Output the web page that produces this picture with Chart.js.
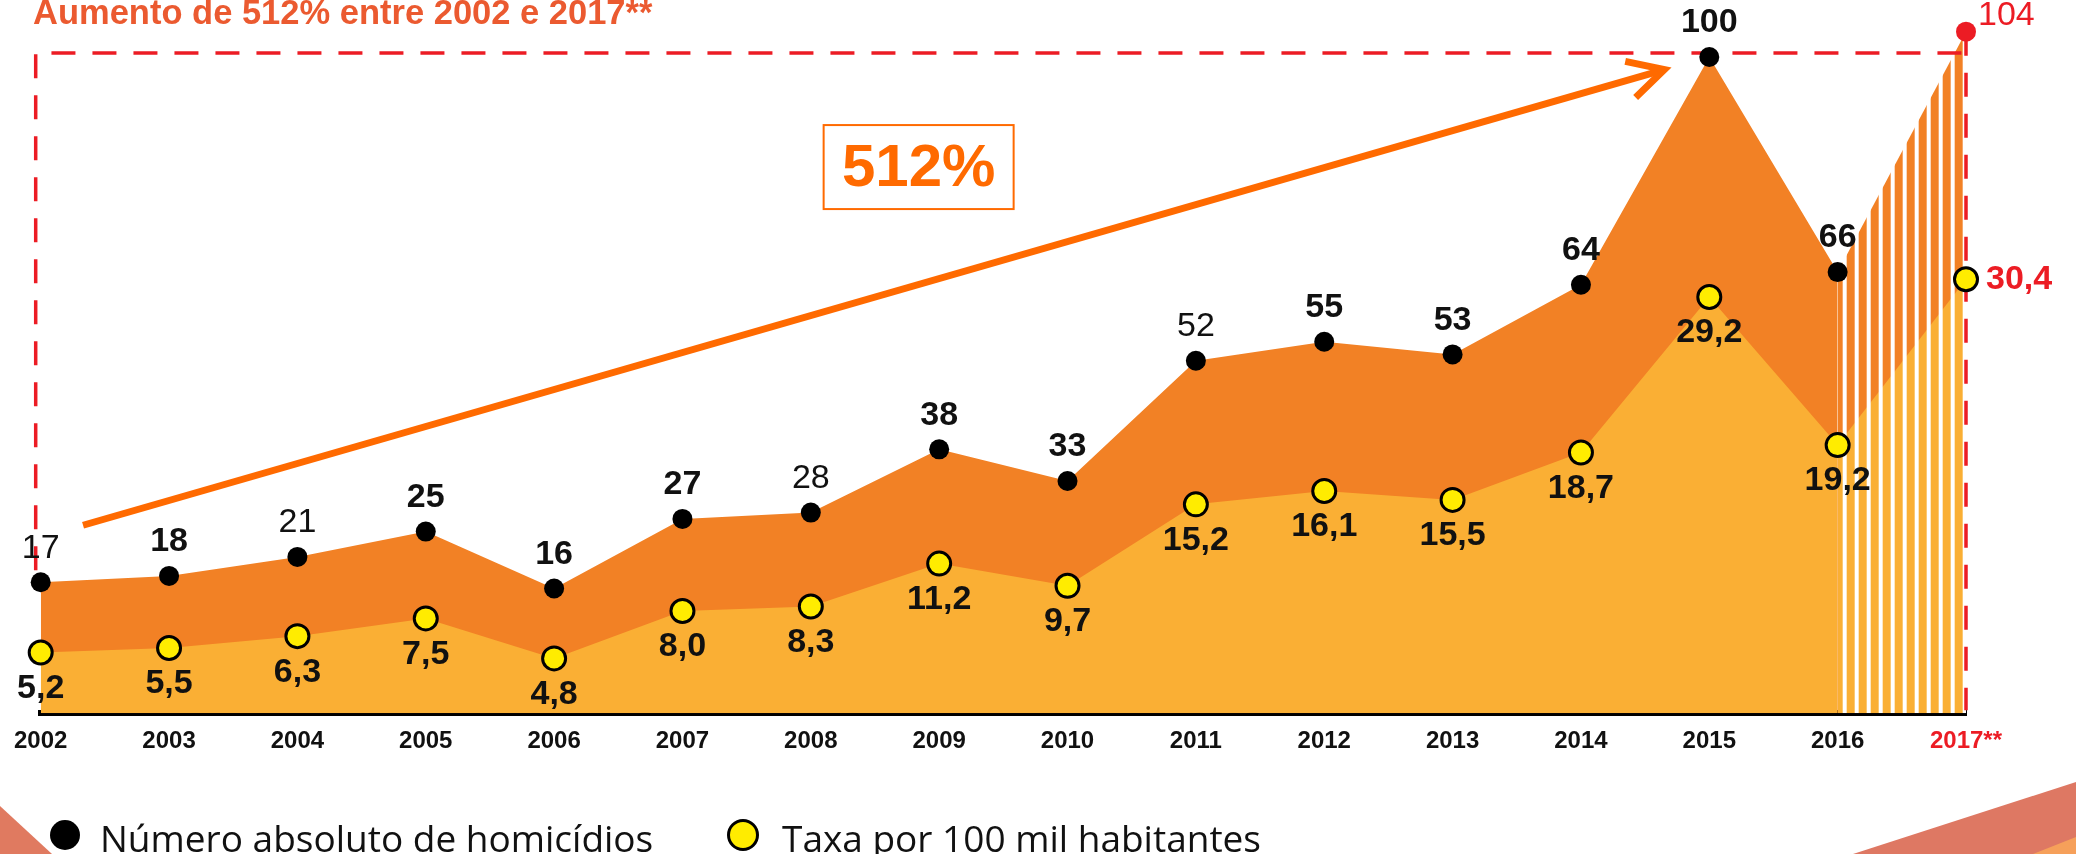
<!DOCTYPE html>
<html lang="pt">
<head>
<meta charset="utf-8">
<title>Homicídios 2002-2017</title>
<script src="https://cdn.jsdelivr.net/npm/chart.js@4.4.1/dist/chart.umd.min.js"></script>
<style>
  html, body { margin: 0; padding: 0; background: #fff; }
  #wrap { position: relative; width: 2076px; height: 854px; overflow: hidden; }
  #deco, #chart { position: absolute; left: 0; top: 0; }
  .title {
    position: absolute; left: 33px; top: -7px; white-space: nowrap;
    font: bold 34.5px "Liberation Sans", Arial, sans-serif; color: #EB5A30;
  }
  .legend-item {
    position: absolute; top: 812px; height: 40px; line-height: 40px;
    font: 37px "Open Sans", sans-serif; color: #111; white-space: nowrap;
  }
  .legend-item .dot {
    position: absolute; top: 8px; width: 30px; height: 30px;
    border-radius: 50%; box-sizing: border-box;
  }
</style>
</head>
<body>
<div id="wrap">
  <svg id="deco" width="2076" height="854">
    <polygon points="0,806 52,854 0,854" fill="#E07A60"/>
    <polygon points="1853,854 2076,782 2076,854" fill="#DE7863"/>
    <polygon points="2033,854 2076,837 2076,854" fill="#F6A05A"/>
  </svg>
  <canvas id="chart" width="2076" height="854"></canvas>
  <div class="title">Aumento de 512% entre 2002 e 2017**</div>
  <div class="legend-item" style="left:50px;">
    <span class="dot" style="left:0;background:#000;"></span>
    <span style="margin-left:50px;">Número absoluto de homicídios</span>
  </div>
  <div class="legend-item" style="left:727px;">
    <span class="dot" style="left:0;width:32px;height:32px;top:7px;background:#FFEC00;border:3px solid #000;"></span>
    <span style="margin-left:55px;">Taxa por 100 mil habitantes</span>
  </div>
</div>

<script>
const years = ['2002', '2003', '2004', '2005', '2006', '2007', '2008', '2009',
  '2010', '2011', '2012', '2013', '2014', '2015', '2016', '2017**'];
const homicidios = [17, 18, 21, 25, 16, 27, 28, 38, 33, 52, 55, 53, 64, 100, 66, 104];
const taxa = [5.2, 5.5, 6.3, 7.5, 4.8, 8.0, 8.3, 11.2, 9.7, 15.2, 16.1, 15.5, 18.7, 29.2, 19.2, 30.4];

// which of the count labels are printed in bold
const boldHom = [false, true, false, true, true, true, false, true, true, false, true, true, true, true, true, false];

const RED = '#EC1C24';
const DARK = '#F28125';
const LIGHT = '#FAAF34';
const ARROW = '#FF6A00';
const FONT = '"Liberation Sans", Arial, sans-serif';
const last = years.length - 1;

const canvas = document.getElementById('chart');
const ctx = canvas.getContext('2d');

// vertical stripes for the 2016 -> 2017 projection
function stripes(color) {
  const c = document.createElement('canvas');
  c.width = 12; c.height = 4;
  const g = c.getContext('2d');
  g.fillStyle = '#fff';
  g.fillRect(0, 0, 12, 4);
  g.fillStyle = color;
  g.fillRect(4, 0, 8, 4);
  return ctx.createPattern(c, 'repeat');
}
const patDark = stripes(DARK);
const patLight = stripes(LIGHT);

const fmt = v => v.toFixed(1).replace('.', ',');

const decorations = {
  id: 'decorations',
  afterUpdate(chart) {
    const x16 = chart.getDatasetMeta(0).data[last - 1].x;
    const m = new DOMMatrix().translateSelf(x16 + 5, 0);
    patDark.setTransform(m);
    patLight.setTransform(m);
  },
  beforeDatasetsDraw(chart) {
    const c = chart.ctx;
    const {x, yAbs} = chart.scales;
    const hom = chart.getDatasetMeta(0).data;
    const xL = x.getPixelForValue(0) - 5;
    const xR = x.getPixelForValue(last);
    const yTop = yAbs.getPixelForValue(100) - 4;

    c.save();
    // red dashed frame
    c.strokeStyle = RED;
    c.lineWidth = 3.5;
    c.setLineDash([24, 17]);
    c.beginPath();
    c.moveTo(xL, hom[0].y - 12);
    c.lineTo(xL, yTop);
    c.lineTo(xR, yTop);
    c.stroke();
    c.beginPath();
    c.moveTo(xR, hom[last].y);
    c.lineTo(xR, chart.chartArea.bottom - 3);
    c.stroke();
    c.setLineDash([]);

    // growth arrow
    const x0 = x.getPixelForValue(0.33), y0 = yAbs.getPixelForValue(26);
    const x1 = x.getPixelForValue(12.65), y1 = yAbs.getPixelForValue(98);
    c.strokeStyle = ARROW;
    c.lineWidth = 7;
    c.beginPath();
    c.moveTo(x0, y0);
    c.lineTo(x1, y1);
    c.stroke();
    const ang = Math.atan2(y0 - y1, x0 - x1);
    const arm = 40, spread = 28 * Math.PI / 180;
    c.lineJoin = 'miter';
    c.beginPath();
    c.moveTo(x1 + arm * Math.cos(ang - spread), y1 + arm * Math.sin(ang - spread));
    c.lineTo(x1, y1);
    c.lineTo(x1 + arm * Math.cos(ang + spread), y1 + arm * Math.sin(ang + spread));
    c.stroke();

    // 512% box
    const bx = x.getPixelForValue(6.84), by = yAbs.getPixelForValue(82.6);
    c.lineWidth = 2;
    c.strokeRect(bx - 95, by - 42, 190, 84);
    c.fillStyle = ARROW;
    c.font = 'bold 60px ' + FONT;
    c.textAlign = 'center';
    c.textBaseline = 'middle';
    c.fillText('512%', bx, by + 2);
    c.restore();
  },
  afterDatasetsDraw(chart) {
    const c = chart.ctx;
    const hom = chart.getDatasetMeta(0).data;
    const tx = chart.getDatasetMeta(1).data;
    c.save();
    c.textBaseline = 'middle';
    hom.forEach((pt, i) => {
      c.font = (boldHom[i] ? 'bold ' : '') + '34px ' + FONT;
      if (i === last) {
        c.fillStyle = RED;
        c.textAlign = 'left';
        c.fillText(String(homicidios[i]), pt.x + 12, pt.y - 16);
      } else {
        c.fillStyle = '#111';
        c.textAlign = 'center';
        c.fillText(String(homicidios[i]), pt.x, pt.y - 34);
      }
    });
    c.font = 'bold 34px ' + FONT;
    tx.forEach((pt, i) => {
      if (i === last) {
        c.fillStyle = RED;
        c.textAlign = 'left';
        c.fillText(fmt(taxa[i]), pt.x + 20, pt.y);
      } else {
        c.fillStyle = '#111';
        c.textAlign = 'center';
        c.fillText(fmt(taxa[i]), pt.x, pt.y + 36);
      }
    });
    c.restore();
  }
};

new Chart(ctx, {
  type: 'line',
  data: {
    labels: years,
    datasets: [
      {
        label: 'Número absoluto de homicídios',
        data: homicidios,
        yAxisID: 'yAbs',
        order: 1,
        fill: 'start',
        backgroundColor: DARK,
        borderColor: 'rgba(0,0,0,0)',
        borderWidth: 0,
        tension: 0,
        clip: false,
        pointRadius: 10,
        pointBorderWidth: 0,
        pointBackgroundColor: years.map((_, i) => i === last ? RED : '#000'),
        segment: { backgroundColor: s => s.p1DataIndex === last ? patDark : undefined }
      },
      {
        label: 'Taxa por 100 mil habitantes',
        data: taxa,
        yAxisID: 'yTaxa',
        order: 0,
        fill: 'start',
        backgroundColor: LIGHT,
        borderColor: 'rgba(0,0,0,0)',
        borderWidth: 0,
        tension: 0,
        clip: false,
        pointRadius: 11.5,
        pointBorderWidth: 3,
        pointBorderColor: '#000',
        pointBackgroundColor: '#FFEC00',
        segment: { backgroundColor: s => s.p1DataIndex === last ? patLight : undefined }
      }
    ]
  },
  options: {
    responsive: false,
    animation: false,
    events: [],
    layout: { autoPadding: false, padding: { left: 40, right: 110, top: 0, bottom: 84 } },
    plugins: {
      legend: { display: false },
      tooltip: { enabled: false },
      filler: { drawTime: 'beforeDatasetsDraw' }
    },
    scales: {
      x: {
        type: 'category',
        offset: false,
        grid: { display: false, drawTicks: false },
        border: { display: true, color: '#000', width: 6 },
        ticks: {
          color: t => t.index === last ? RED : '#111',
          font: { family: FONT, size: 24, weight: 'bold' },
          padding: 14,
          maxRotation: 0,
          autoSkip: false
        }
      },
      yAbs: { type: 'linear', display: false, min: -3.7, max: 109 },
      yTaxa: { type: 'linear', display: false, min: 1.1, max: 49.25 }
    }
  },
  plugins: [decorations]
});
</script>
</body>
</html>
